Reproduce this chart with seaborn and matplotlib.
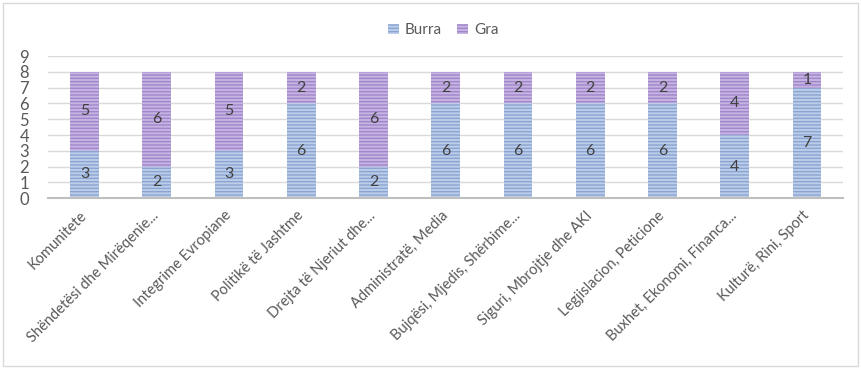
import pandas as pd
import numpy as np
import matplotlib
matplotlib.use("Agg")
import matplotlib.pyplot as plt
import seaborn as sns
from matplotlib.patches import Rectangle, Patch

# të dhënat
komisionet = ["Komunitete", "Shëndetësi dhe Mirëqenie...", "Integrime Evropiane",
              "Politikë të Jashtme", "Drejta të Njeriut dhe...", "Administratë, Media",
              "Bujqësi, Mjedis, Shërbime...", "Siguri, Mbrojtje dhe AKI",
              "Legjislacion, Peticione", "Buxhet, Ekonomi, Financa...", "Kulturë, Rini, Sport"]
burra = [3, 2, 3, 6, 2, 6, 6, 6, 6, 4, 7]
gra = [5, 6, 5, 2, 6, 2, 2, 2, 2, 4, 1]

df = pd.DataFrame({"Komisioni": komisionet, "Burra": burra, "Gra": gra})
df["Total"] = df["Burra"] + df["Gra"]

sns.set_style("white")
plt.rcParams["font.family"] = ["Lato", "DejaVu Sans"]
plt.rcParams["hatch.linewidth"] = 1.0

fig = plt.figure(figsize=(8.61, 3.69), dpi=100)
ax = fig.add_axes([0.0562, 0.463, 0.923, 0.385])

blue_fill, blue_line = "#bccde9", "#8aa5d2"
purple_fill, purple_line = "#c6b4e2", "#a186cb"

# stacked: total (gra) first, then burra on top
sns.barplot(data=df, x="Komisioni", y="Total", color=purple_fill, width=0.4,
            saturation=1, ax=ax, edgecolor=purple_line, linewidth=0)
n = len(ax.patches)
sns.barplot(data=df, x="Komisioni", y="Burra", color=blue_fill, width=0.4,
            saturation=1, ax=ax, edgecolor=blue_line, linewidth=0)
for i, p in enumerate(ax.patches):
    p.set_hatch("-----")
    p.set_edgecolor(purple_line if i < n else blue_line)

# etiketat
for i, (b, g) in enumerate(zip(burra, gra)):
    ax.text(i, b / 2, str(b), ha="center", va="center", fontsize=11.5, color="#404040")
    ax.text(i, b + g / 2, str(g), ha="center", va="center", fontsize=11.5, color="#404040")

ax.set_ylim(0, 9)
ax.set_xlim(-0.5, len(komisionet) - 0.5)
ax.set_yticks(range(10))
ax.yaxis.grid(True, color="#d9d9d9", linewidth=1)
ax.set_axisbelow(True)
for s in ["top", "right", "left"]:
    ax.spines[s].set_visible(False)
ax.spines["bottom"].set_color("#bfbfbf")
ax.spines["bottom"].set_linewidth(1.5)
ax.tick_params(axis="both", length=0, colors="#595959")
ax.tick_params(axis="y", pad=14, labelsize=12)
ax.tick_params(axis="x", pad=11)
ax.set_xticks(range(len(komisionet)))
ax.set_xticklabels(komisionet, rotation=45, ha="right", va="center",
                   rotation_mode="anchor", fontsize=10.5)
ax.set_xlabel("")
ax.set_ylabel("")

handles = [Patch(facecolor=blue_fill, edgecolor=blue_line, hatch="-----", linewidth=0),
           Patch(facecolor=purple_fill, edgecolor=purple_line, hatch="-----", linewidth=0)]
fig.legend(handles, ["Burra", "Gra"], loc="center", bbox_to_anchor=(0.515, 0.918),
           ncol=2, frameon=False, fontsize=11, handlelength=0.7, handleheight=0.7,
           columnspacing=1.0, handletextpad=0.4, labelcolor="#595959")

fig.patches.append(Rectangle((0.004, 0.008), 0.992, 0.984, transform=fig.transFigure,
                             fill=False, edgecolor="#d9d9d9", linewidth=1))

fig.savefig("out.png", dpi=100)
